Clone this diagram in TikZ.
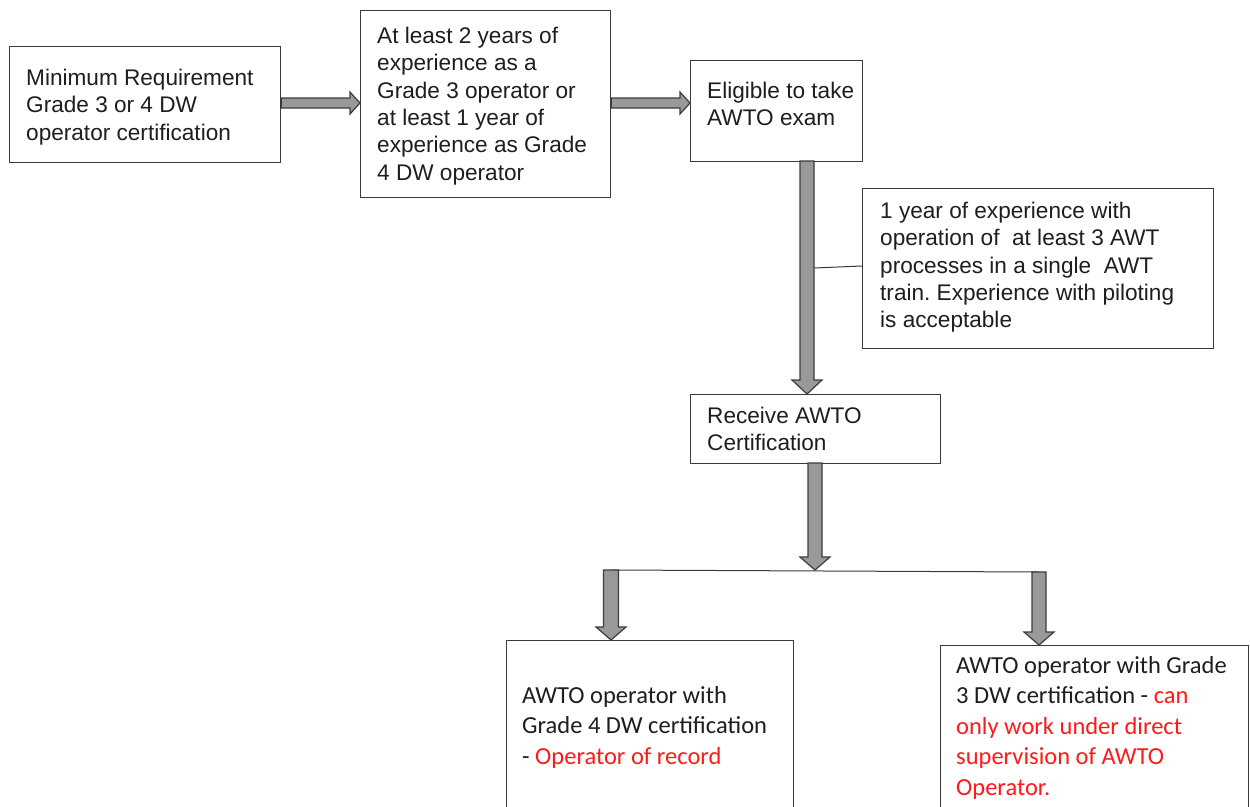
\documentclass[tikz,border=0pt]{standalone}
\usepackage{fontspec}
\setmainfont{Liberation Sans}
\newfontfamily\carlito{Carlito}
\usetikzlibrary{calc}
\frenchspacing
\definecolor{boxline}{HTML}{3A3A3A}
\definecolor{arrfill}{HTML}{999999}
\definecolor{arrline}{HTML}{3C3C3C}
\definecolor{txt}{HTML}{1E1E1E}
\definecolor{redtxt}{HTML}{FF1A1A}
\tikzset{
  box/.style={draw=boxline, line width=1.3pt, rectangle, inner sep=0pt, anchor=north west},
  btext/.style={inner sep=0pt, anchor=north west, align=left, text=txt,
    font=\fontsize{22.6}{27.4}\selectfont},
  ctext/.style={inner sep=0pt, anchor=north west, align=left, text=txt,
    font=\carlito\fontsize{24.5}{30.5}\selectfont},
  fatarrow/.style={fill=arrfill, draw=arrline, line width=1.2pt, line join=miter},
  thinline/.style={draw=boxline, line width=1pt}
}
\newcommand\fr{\rule{0pt}{20pt}}
% downward fat arrow: start, tip, shaft half, head half, head length
\newcommand\downfat[5]{%
  \filldraw[fatarrow] let \p1=(#1), \p2=(#2) in
    (\x1-#3,\y1) -- (\x1-#3,\y2+#5) -- (\x1-#4,\y2+#5) -- (\x1,\y2)
    -- (\x1+#4,\y2+#5) -- (\x1+#3,\y2+#5) -- (\x1+#3,\y1) -- cycle;}
% rightward fat arrow
\newcommand\rightfat[5]{%
  \filldraw[fatarrow] let \p1=(#1), \p2=(#2) in
    (\x1,\y1-#3) -- (\x2-#5,\y1-#3) -- (\x2-#5,\y1-#4) -- (\x2,\y1)
    -- (\x2-#5,\y1+#4) -- (\x2-#5,\y1+#3) -- (\x1,\y1+#3) -- cycle;}
\begin{document}
\begin{tikzpicture}[x=1pt,y=-1pt]
\useasboundingbox[fill=white] (0,0) rectangle (1250,806);
\clip (0,0) rectangle (1250,806);

% boxes
\node[box, minimum width=271pt, minimum height=116pt] (A) at (9,46) {};
\node[box, minimum width=250pt, minimum height=187pt] (B) at (360,10) {};
\node[box, minimum width=172pt, minimum height=101pt] (C) at (690,60) {};
\node[box, minimum width=351pt, minimum height=160pt] (D) at (862,188) {};
\node[box, minimum width=250pt, minimum height=69pt] (E) at (690,394) {};
\node[box, minimum width=287pt, minimum height=180pt] (F) at (506,640) {};
\node[box, minimum width=308pt, minimum height=175pt] (G) at (940,645) {};

% texts
\node[btext] (At) at (26,65) {\fr Minimum Requirement\\Grade 3 or 4 DW\\operator certification};
\node[btext] (Bt) at (377,23) {\fr At least 2 years of\\experience as a\\Grade 3 operator or\\at least 1 year of\\experience as Grade\\4 DW operator};
\node[btext] (Ct) at (707,78) {\fr Eligible to take\\AWTO exam};
\node[btext] (Dt) at (880,198) {\fr 1 year of experience with\\operation of\ \ at least 3 AWT\\processes in a single\ \ AWT\\train. Experience with piloting\\is acceptable};
\node[btext] (Et) at (707,403) {\fr Receive AWTO\\Certification};
\node[ctext] (Ft) at (522,683) {\fr AWTO operator with\\Grade 4 DW certification\\- \textcolor{redtxt}{Operator of record}};
\node[ctext] (Gt) at (956,653) {\fr AWTO operator with Grade\\3 DW certification - \textcolor{redtxt}{can}\\\textcolor{redtxt}{only work under direct}\\\textcolor{redtxt}{supervision of AWTO}\\\textcolor{redtxt}{Operator.}};

% horizontal arrows
\rightfat{A.east |- 0,103}{B.west |- 0,103}{5pt}{11pt}{10pt}
\rightfat{B.east |- 0,103}{C.west |- 0,103}{5pt}{11pt}{10pt}

% C -> E
\coordinate (c1) at (807,161);
\coordinate (dl) at (814,268);
\draw[thinline] (dl) -- (D.west |- 0,266);
\downfat{c1}{E.north -| c1}{7pt}{15pt}{14pt}

% E -> junction
\coordinate (e1) at (815,463);
\coordinate (j) at (815,570);
\coordinate (jl) at (611,570);
\coordinate (jr) at (1039,572);
\draw[thinline] (jl) -- (jr);
\downfat{e1}{j}{7pt}{15pt}{13pt}
\downfat{jl}{F.north -| jl}{7.5pt}{15pt}{13pt}
\downfat{jr}{G.north -| jr}{7pt}{15pt}{13pt}
\end{tikzpicture}
\end{document}
